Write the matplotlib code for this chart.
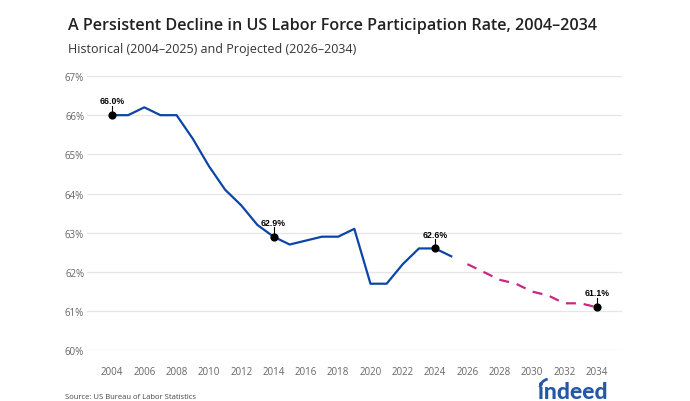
import matplotlib
matplotlib.use("Agg")
import matplotlib.pyplot as plt
from matplotlib.patches import Arc

# Historical and projected labor force participation rate (%)
hist_years = list(range(2004, 2026))
hist_rate = [66.0, 66.0, 66.2, 66.0, 66.0, 65.4, 64.7, 64.1, 63.7, 63.2, 62.9,
             62.7, 62.8, 62.9, 62.9, 63.1, 61.7, 61.7, 62.2, 62.6, 62.6, 62.4]
proj_years = list(range(2026, 2035))
proj_rate = [62.2, 62.0, 61.8, 61.7, 61.5, 61.4, 61.2, 61.2, 61.1]

# labelled points
label_years = [2004, 2014, 2024, 2034]
label_rates = [66.0, 62.9, 62.6, 61.1]

plt.rcParams['font.family'] = ['Open Sans', 'DejaVu Sans']
plt.rcParams['font.stretch'] = 'normal'

fig = plt.figure(figsize=(6.9, 4.02), dpi=100)
ax = fig.add_axes([0.126, 0.126, 0.775, 0.6825])

ax.plot(hist_years, hist_rate, color='#0b45a8', lw=1.6, zorder=3)
ax.plot(proj_years, proj_rate, color='#c8287f', lw=1.6, ls=(0, (4.5, 3.5)), zorder=3)

ax.scatter(label_years, label_rates, s=24, color='black', zorder=5)
for yr, val in zip(label_years, label_rates):
    ax.plot([yr, yr], [val, val + 0.24], color='black', lw=0.8, zorder=4)
    ax.text(yr, val + 0.25, f"{val:.1f}%", ha='center', va='bottom',
            fontsize=6.3, fontweight='bold', family=['Liberation Sans', 'DejaVu Sans'])

ax.set_xlim(2002.45, 2035.55)
ax.set_ylim(60, 67)
ax.set_xticks(range(2004, 2035, 2))
ax.set_yticks(range(60, 68))
ax.set_yticklabels([f"{v}%" for v in range(60, 68)])
ax.grid(axis='y', color='#e6e6e6', lw=0.9)
ax.set_axisbelow(True)
for s in ax.spines.values():
    s.set_visible(False)
ax.tick_params(length=0, labelsize=7, colors='#666666')
ax.tick_params(axis='y', pad=2)
ax.tick_params(axis='x', pad=11)

fig.text(0.099, 0.925, "A Persistent Decline in US Labor Force Participation Rate, 2004\u20132034",
         fontsize=11.58, fontweight=600, fontstretch='normal', color='#222222')
fig.text(0.099, 0.868, "Historical (2004\u20132025) and Projected (2026\u20132034)",
         fontsize=9, color='#333333')
fig.text(0.094, 0.008, "Source: US Bureau of Labor Statistics", fontsize=5.5, color='#444444')

# indeed wordmark
fig.text(0.881, 0.0075, "indeed", fontsize=16.5, fontweight=900, color='#2557a7',
         ha='right', va='baseline', family=['Lato', 'DejaVu Sans'])
fig.patches.append(Arc((0.7957, 0.032), 0.026, 0.045, theta1=95, theta2=170,
                       transform=fig.transFigure, color='#2557a7', lw=2.0))

fig.savefig("out.png", dpi=100)
